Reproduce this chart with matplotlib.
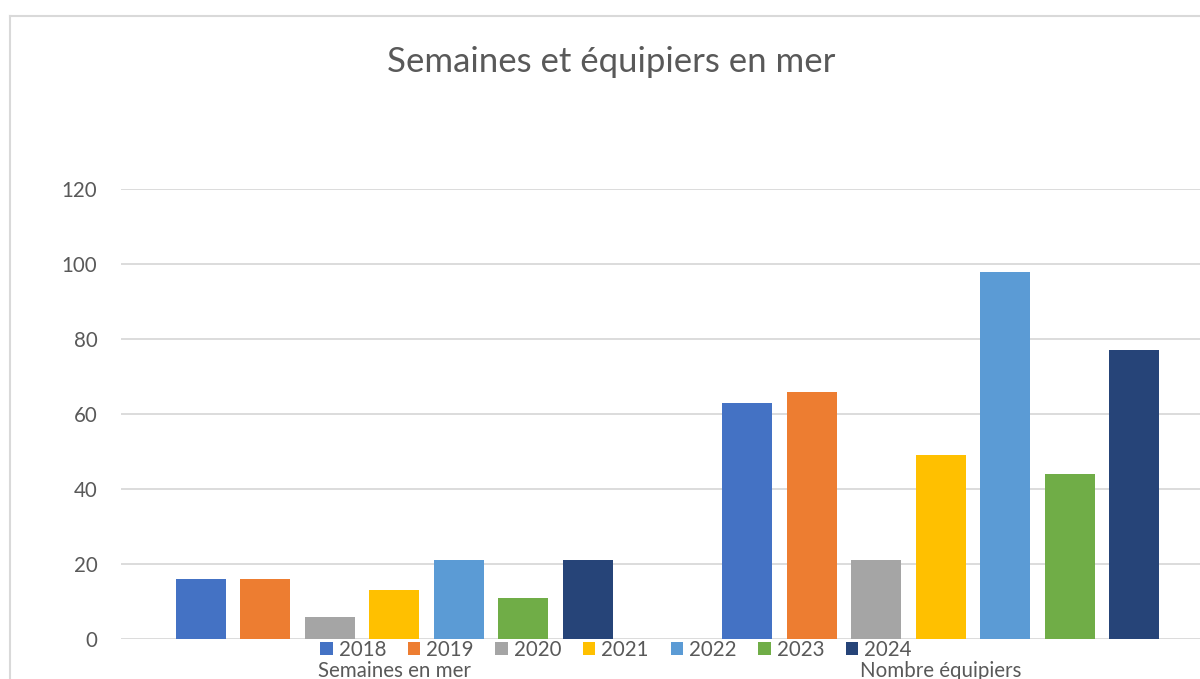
import matplotlib
matplotlib.use("Agg")
import matplotlib.pyplot as plt
from matplotlib.lines import Line2D
import numpy as np

plt.rcParams['font.family'] = ['Lato', 'DejaVu Sans']

categories = ["Semaines en mer", "Nombre équipiers"]
years = ["2018", "2019", "2020", "2021", "2022", "2023", "2024"]
values_2018 = [16, 63]
values_2019 = [16, 66]
values_2020 = [6, 21]
values_2021 = [13, 49]
values_2022 = [21, 98]
values_2023 = [11, 44]
values_2024 = [21, 77]
series = [values_2018, values_2019, values_2020, values_2021,
          values_2022, values_2023, values_2024]
colors = ["#4472C4", "#ED7D31", "#A5A5A5", "#FFC000", "#5B9BD5", "#70AD47", "#264478"]
yticks = [0, 20, 40, 60, 80, 100, 120]

W, H = 1200, 679
fig = plt.figure(figsize=(W / 100, H / 100), dpi=100)
ax = fig.add_axes([121 / W, (H - 639) / H, 1093 / W, (639 - 189) / H])

x = np.arange(len(categories))
step = 64.5 / 546.5
width = 50 / 546.5
handles = []
for i, (yr, vals, c) in enumerate(zip(years, series, colors)):
    b = ax.bar(x + (i - 3) * step, vals, width=width, color=c, label=yr, zorder=3)
    handles.append(b)

ax.set_xlim(-0.5, 1.5)
ax.set_ylim(0, 120)
ax.set_yticks(yticks)
ax.set_yticklabels([str(t) for t in yticks])
ax.set_xticks(x)
ax.set_xticklabels(categories)
ax.grid(axis='y', color='#D9D9D9', linewidth=1.3, zorder=0)
ax.set_axisbelow(True)
for s in ax.spines.values():
    s.set_visible(False)
ax.tick_params(axis='y', length=0, pad=17, labelsize=14.8, labelcolor='#595959')
ax.tick_params(axis='x', length=0, pad=16, labelsize=14.8, labelcolor='#595959')

fig.text(611 / W, 1 - 62 / H, "Semaines et équipiers en mer", ha='center', va='center',
         fontsize=25, color='#595959')

leg = fig.legend(handles=handles, labels=years, loc='center', ncol=7,
                 bbox_to_anchor=(616 / W, 1 - 650 / H), frameon=False,
                 fontsize=14.8, handlelength=0.6, handleheight=0.6,
                 handletextpad=0.3, columnspacing=1.05, borderpad=0, labelcolor='#595959')

fig.add_artist(Line2D([10 / W, 10 / W], [0, 1 - 16 / H], transform=fig.transFigure,
                      color='#D9D9D9', linewidth=1.5))
fig.add_artist(Line2D([10 / W, 1], [1 - 16 / H, 1 - 16 / H], transform=fig.transFigure,
                      color='#D9D9D9', linewidth=1.5))

fig.savefig("out.png", dpi=100, facecolor='white')
